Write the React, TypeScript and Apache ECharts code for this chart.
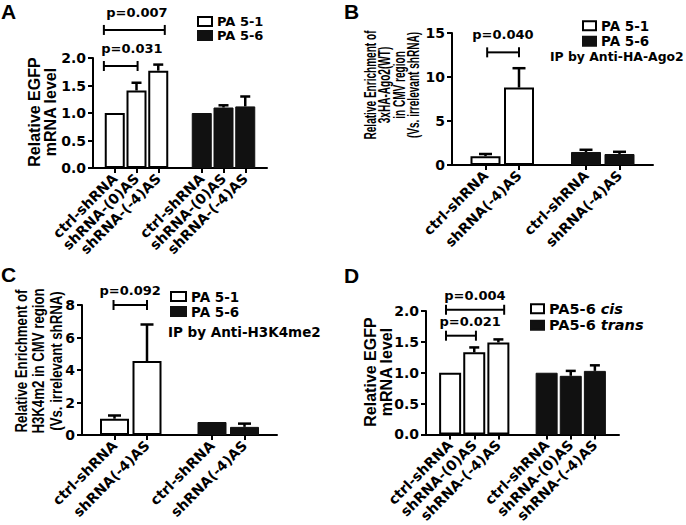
import React, { useEffect, useRef } from 'react';
import * as echarts from 'echarts';

// ---------- Data ----------
// Panel A
const catsA = ['', 'ctrl-shRNA', 'shRNA-(0)AS', 'shRNA-(-4)AS', '', 'ctrl-shRNA', 'shRNA-(0)AS', 'shRNA-(-4)AS', ''];
const whiteSlotsA = [1, 2, 3];
const blackSlotsA = [5, 6, 7];
const whiteA = [1.0, 1.41, 1.77];
const whiteSemA = [0, 0.14, 0.11];
const blackA = [1.0, 1.1, 1.12];
const blackSemA = [0, 0.04, 0.18];
const bracketsA = [
  { from: 0.5, to: 2.05, y: 1.855, tx: 1.79, label: 'p=0.031' },
  { from: 0.5, to: 3.3, y: 2.51, tx: 2.02, label: 'p=0.007' },
];

// Panel B
const catsB = ['', 'ctrl-shRNA', 'shRNA(-4)AS', '', 'ctrl-shRNA', 'shRNA(-4)AS', ''];
const whiteSlotsB = [1, 2];
const blackSlotsB = [4, 5];
const whiteB = [1.0, 8.8];
const whiteSemB = [0.25, 2.2];
const blackB = [1.48, 1.25];
const blackSemB = [0.25, 0.25];
const bracketsB = [{ from: 1.05, to: 2.0, y: 12.8, tx: 1.52, label: 'p=0.040' }];

// Panel C
const catsC = ['', 'ctrl-shRNA', 'shRNA(-4)AS', '', 'ctrl-shRNA', 'shRNA(-4)AS', ''];
const whiteSlotsC = [1, 2];
const blackSlotsC = [4, 5];
const whiteC = [1.0, 4.55];
const whiteSemC = [0.2, 2.25];
const blackC = [0.8, 0.5];
const blackSemC = [0, 0.2];
const bracketsC = [{ from: 0.97, to: 2.0, y: 8.0, tx: 1.48, label: 'p=0.092' }];

// Panel D
const catsD = ['', 'ctrl-shRNA', 'shRNA-(0)AS', 'shRNA-(-4)AS', '', 'ctrl-shRNA', 'shRNA-(0)AS', 'shRNA-(-4)AS', ''];
const whiteSlotsD = [1, 2, 3];
const blackSlotsD = [5, 6, 7];
const whiteD = [1.0, 1.33, 1.49];
const whiteSemD = [0, 0.08, 0.05];
const blackD = [1.0, 0.95, 1.03];
const blackSemD = [0, 0.08, 0.09];
const bracketsD = [
  { from: 0.83, to: 2.07, y: 1.6, tx: 1.83, label: 'p=0.021' },
  { from: 0.83, to: 3.24, y: 2.02, tx: 2.03, label: 'p=0.004' },
];

// ---------- Styles ----------
const DJ = 'DejaVu Sans';
const LIB = 'Liberation Sans';

function fillSlots(n: number, slots: number[], vals: number[]) {
  const arr: any[] = new Array(n).fill('-');
  slots.forEach((s, i) => (arr[s] = vals[i]));
  return arr;
}

function errSeries(idx: number, slots: number[], means: number[], sems: number[], cap: number) {
  return {
    type: 'custom',
    xAxisIndex: idx,
    yAxisIndex: idx,
    z: 4,
    clip: false,
    silent: true,
    encode: { x: 0, y: 1 },
    data: slots
      .map((s, i) => [s, means[i], means[i] + sems[i]])
      .filter((d) => d[2] > d[1]),
    renderItem: (params: any, api: any) => {
      const base = api.coord([api.value(0), api.value(1)]);
      const top = api.coord([api.value(0), api.value(2)]);
      const st = { stroke: '#000', lineWidth: 2.5 };
      return {
        type: 'group',
        children: [
          { type: 'line', shape: { x1: base[0], y1: base[1], x2: top[0], y2: top[1] }, style: st },
          { type: 'line', shape: { x1: top[0] - cap, y1: top[1], x2: top[0] + cap, y2: top[1] }, style: st },
        ],
      };
    },
  };
}

function bracketSeries(idx: number, brackets: any[], textGap: number, font: string) {
  return {
    type: 'custom',
    xAxisIndex: idx,
    yAxisIndex: idx,
    z: 5,
    clip: false,
    silent: true,
    encode: { x: 0, y: 1 },
    data: brackets.map(() => [1, 0]),
    renderItem: (params: any, api: any) => {
      const b = brackets[params.dataIndex];
      const c0 = api.coord([0, b.y]);
      const c1 = api.coord([1, b.y]);
      const w = c1[0] - c0[0];
      const X = (f: number) => c0[0] + f * w;
      const y = c0[1];
      const x1 = X(b.from);
      const x2 = X(b.to);
      const st = { stroke: '#000', lineWidth: 2 };
      return {
        type: 'group',
        children: [
          { type: 'line', shape: { x1, y1: y, x2, y2: y }, style: st },
          { type: 'line', shape: { x1, y1: y - 5, x2: x1, y2: y + 5 }, style: st },
          { type: 'line', shape: { x1: x2, y1: y - 5, x2, y2: y + 5 }, style: st },
          {
            type: 'text',
            x: X(b.tx),
            y: y - textGap,
            style: {
              text: b.label,
              fill: '#000',
              font,
              align: 'center',
              verticalAlign: 'middle',
              textAlign: 'center',
              textVerticalAlign: 'middle',
            },
          },
        ],
      };
    },
  };
}

function panel(p: any) {
  const n = p.cats.length;
  const grid = { left: p.left, top: p.top, width: p.width, height: p.height, containLabel: false };
  const xAxis = {
    type: 'category',
    gridIndex: p.idx,
    data: p.cats,
    boundaryGap: false,
    axisLine: { lineStyle: { color: '#000', width: 2 } },
    axisTick: {
      show: true,
      length: 5,
      interval: (i: number, v: string) => v !== '',
      lineStyle: { color: '#000', width: 2 },
    },
    axisLabel: {
      interval: 0,
      rotate: 45,
      margin: 8,
      fontFamily: DJ,
      fontWeight: 'bold',
      fontSize: 14,
      color: '#000',
    },
    splitLine: { show: false },
  };
  const yAxis = {
    type: 'value',
    gridIndex: p.idx,
    min: 0,
    max: p.max,
    interval: p.interval,
    axisLine: { show: true, lineStyle: { color: '#000', width: 2 } },
    axisTick: { show: true, length: 5, lineStyle: { color: '#000', width: 2 } },
    splitLine: { show: false },
    axisLabel: {
      margin: 7,
      fontFamily: DJ,
      fontWeight: 'bold',
      fontSize: 14,
      color: '#000',
      formatter: p.decimals ? (v: number) => v.toFixed(1) : (v: number) => String(v),
    },
  };
  const series = [
    {
      type: 'bar',
      name: p.names[0],
      xAxisIndex: p.idx,
      yAxisIndex: p.idx,
      barWidth: p.barWidth,
      barGap: '-100%',
      data: fillSlots(n, p.wSlots, p.white),
      itemStyle: { color: '#fff', borderColor: '#000', borderWidth: 2 },
      z: 2,
    },
    {
      type: 'bar',
      name: p.names[1],
      xAxisIndex: p.idx,
      yAxisIndex: p.idx,
      barWidth: p.barWidth,
      barGap: '-100%',
      data: fillSlots(n, p.bSlots, p.black),
      itemStyle: { color: '#111', borderColor: '#111', borderWidth: 1 },
      z: 2,
    },
    errSeries(p.idx, p.wSlots, p.white, p.wSem, p.cap),
    errSeries(p.idx, p.bSlots, p.black, p.bSem, p.cap),
    bracketSeries(p.idx, p.brackets, p.textGap, `bold 13px "${DJ}"`),
  ];
  const legend = {
    data: p.names,
    orient: 'vertical',
    left: p.legLeft,
    top: p.legTop,
    padding: 0,
    itemGap: 0,
    itemWidth: p.legIconW,
    itemHeight: 9,
    icon: 'rect',
    selectedMode: false,
    formatter: (name: string) => name.replace(/ (cis|trans)$/, ' {i|$1}'),
    textStyle: {
      fontFamily: DJ,
      fontWeight: 'bold',
      fontSize: p.legFont,
      color: '#000',
      lineHeight: p.legLine,
      rich: {
        i: {
          fontFamily: DJ,
          fontWeight: 'bold',
          fontStyle: 'italic',
          fontSize: p.legFont,
          lineHeight: p.legLine,
          color: '#000',
        },
      },
    },
  };
  return { grid, xAxis, yAxis, series, legend };
}

const panels = [
  panel({
    idx: 0, cats: catsA, left: 93, top: 58, width: 174, height: 110, max: 2, interval: 0.5, decimals: true,
    names: ['PA 5-1', 'PA 5-6'], wSlots: whiteSlotsA, bSlots: blackSlotsA,
    white: whiteA, wSem: whiteSemA, black: blackA, bSem: blackSemA, barWidth: 20, cap: 5,
    brackets: bracketsA, textGap: 17, legLeft: 197, legTop: 14.5, legLine: 14, legFont: 13, legIconW: 14,
  }),
  panel({
    idx: 1, cats: catsB, left: 452, top: 33, width: 201, height: 132, max: 15, interval: 5, decimals: false,
    names: ['PA 5-1', 'PA 5-6'], wSlots: whiteSlotsB, bSlots: blackSlotsB,
    white: whiteB, wSem: whiteSemB, black: blackB, bSem: blackSemB, barWidth: 30, cap: 6.5,
    brackets: bracketsB, textGap: 18, legLeft: 582, legTop: 18, legLine: 15.5, legFont: 13.5, legIconW: 13,
  }),
  panel({
    idx: 2, cats: catsC, left: 82, top: 305, width: 195, height: 130, max: 8, interval: 2, decimals: false,
    names: ['PA 5-1', 'PA 5-6'], wSlots: whiteSlotsC, bSlots: blackSlotsC,
    white: whiteC, wSem: whiteSemC, black: blackC, bSem: blackSemC, barWidth: 29, cap: 6.5,
    brackets: bracketsC, textGap: 15, legLeft: 170, legTop: 289, legLine: 15, legFont: 13.5, legIconW: 15,
  }),
  panel({
    idx: 3, cats: catsD, left: 426, top: 311, width: 193, height: 130, max: 2, interval: 0.5, decimals: true,
    names: ['PA5-6 cis', 'PA5-6 trans'], wSlots: whiteSlotsD, bSlots: blackSlotsD,
    white: whiteD, wSem: whiteSemD, black: blackD, bSem: blackSemD, barWidth: 22, cap: 5,
    brackets: bracketsD, textGap: 14, legLeft: 530, legTop: 300.5, legLine: 16.5, legFont: 14.5, legIconW: 13,
  }),
];

function vText(x: number, y: number, text: string, size: number, lh: number, sx: number) {
  return {
    type: 'text',
    x,
    y,
    rotation: Math.PI / 2,
    scaleX: sx,
    silent: true,
    style: {
      text,
      fill: '#000',
      font: `bold ${size}px "${LIB}"`,
      lineHeight: lh,
      align: 'center',
      verticalAlign: 'middle',
      textAlign: 'center',
      textVerticalAlign: 'middle',
    },
  };
}

function hText(x: number, y: number, text: string, font: string, va = 'middle') {
  return {
    type: 'text',
    x,
    y,
    silent: true,
    style: { text, fill: '#000', font, align: 'left', verticalAlign: va, textAlign: 'left', textVerticalAlign: va },
  };
}

export default function App() {
  const ref = useRef<HTMLDivElement>(null);
  useEffect(() => {
    if (!ref.current) return;
    const chart = echarts.init(ref.current, undefined, { renderer: 'svg' });
    const option: any = {
      animation: false,
      backgroundColor: '#fff',
      grid: panels.map((p) => p.grid),
      xAxis: panels.map((p) => p.xAxis),
      yAxis: panels.map((p) => p.yAxis),
      series: panels.flatMap((p) => p.series),
      legend: panels.map((p) => p.legend),
      graphic: [
        hText(1, 1, 'A', `bold 21px "${LIB}"`, 'top'),
        hText(344, 1, 'B', `bold 21px "${LIB}"`, 'top'),
        hText(1, 264, 'C', `bold 21px "${LIB}"`, 'top'),
        hText(344, 265, 'D', `bold 21px "${LIB}"`, 'top'),
        hText(550, 56, 'IP by Anti-HA-Ago2', `bold 12.4px "${DJ}"`),
        hText(168, 332, 'IP by Anti-H3K4me2', `bold 13.5px "${DJ}"`),
        vText(42, 112, 'Relative EGFP\nmRNA level', 16, 16, 1),
        vText(392, 85, 'Relative Enrichment of\n3xHA-Ago2(WT)\nin CMV region\n(Vs. irrelevant shRNA)', 16.5, 14.5, 0.61),
        vText(38, 361, 'Relative Enrichment of\nH3K4m2 in CMV region\n(Vs. irrelevant shRNA)', 16.5, 17.5, 0.8),
        vText(378, 372, 'Relative EGFP\nmRNA level', 16, 16, 1),
      ],
    };
    chart.setOption(option);
    return () => chart.dispose();
  }, []);
  return (
    <div
      ref={ref}
      style={{ position: 'fixed', left: 0, top: 0, width: 686, height: 525, background: '#fff' }}
    />
  );
}
